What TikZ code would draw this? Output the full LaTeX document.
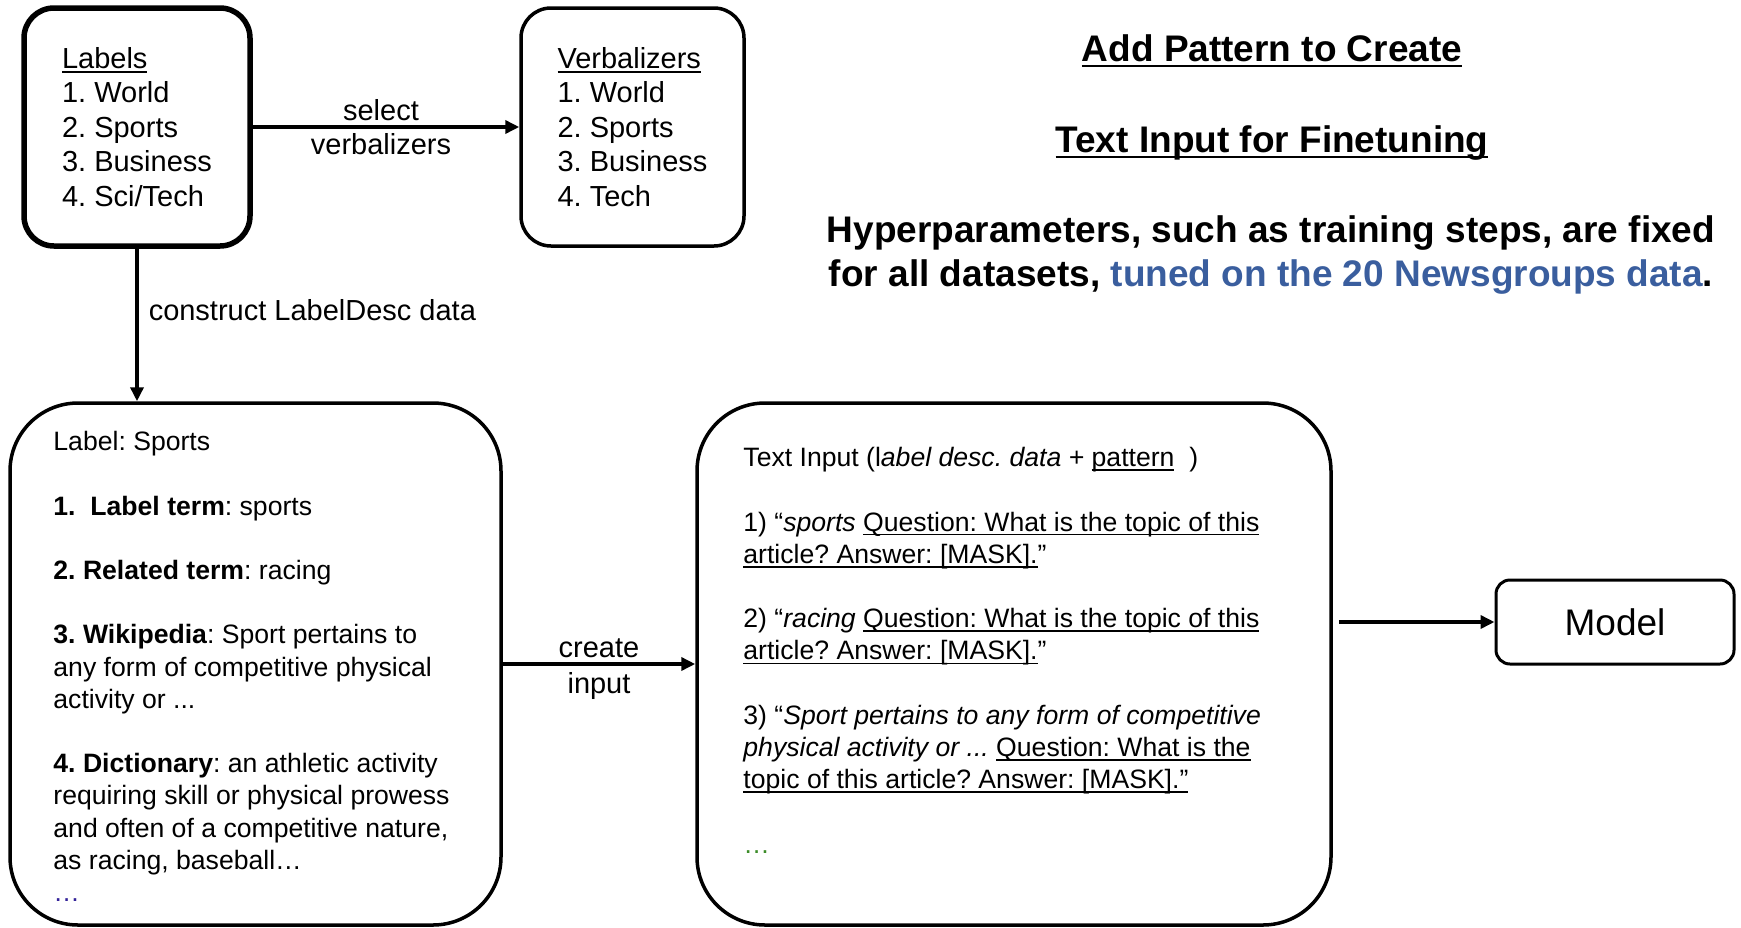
\documentclass[tikz,border=0pt]{standalone}
\usepackage{fontspec}
\setmainfont{Liberation Sans}
\usepackage{xcolor}
\usepackage{tikz}
\usetikzlibrary{positioning}
\usetikzlibrary{calc}
\usetikzlibrary{arrows.meta}
\definecolor{tuneblue}{RGB}{58,94,158}
\definecolor{dotblue}{RGB}{51,34,153}
\definecolor{dotgreen}{RGB}{60,140,40}
\newsavebox{\undlbox}
\newcommand{\undl}[1]{\sbox{\undlbox}{#1}\rlap{\rule[-0.16em]{\wd\undlbox}{0.06em}}\usebox{\undlbox}}
\frenchspacing

\begin{document}
\begin{tikzpicture}[x=1pt, y=-1pt, roundbox/.style ={draw, rounded corners=#1, line width=3.5pt}, roundbox/.default=30pt, arr/.style={-{Triangle[length=14pt,width=13pt]}, line width=3.5pt}, lst/.style={font={\fontsize{29}{34.5}\selectfont}, align=left}, small/.style={font={\fontsize{26.6}{32.2}\selectfont}, align=left, inner sep=0pt}, big/.style={font={\bfseries\fontsize{37}{44}\selectfont}, align=center}]
	\useasboundingbox (0,0) rectangle (1741,927);
	\node[roundbox, line width=5.5pt, minimum width=226pt, minimum height=238pt, lst] (labels) at (137,127) {\undl{Labels}\\1. World\\2. Sports\\3. Business\\4. Sci/Tech};
	\node[roundbox, minimum width=223pt, minimum height=238pt, lst] (verb) at (632.5,127) {\undl{Verbalizers}\\1. World\\2. Sports\\3. Business\\4. Tech};
	\node[roundbox=68pt, minimum width=491pt, minimum height=522pt] (desc) at (255.5,664) {};
	\node[roundbox=68pt, minimum width=634pt, minimum height=522pt] (tin) at (1014,664) {};
	\node[roundbox=14pt, line width=3pt, minimum width=238pt, minimum height=84pt, font={\fontsize{37}{44}\selectfont}] (model) at (1615,622) {Model};
	% box contents
	\node[small, anchor=north west] (desctext) at ($(desc.north west)+(45,30)$) {Label: Sports\\[32.2pt]
	\textbf{1.\ \ Label term}: sports\\[32.2pt]
	\textbf{2. Related term}: racing\\[32.2pt]
	\textbf{3. Wikipedia}: Sport pertains to\\
	any form of competitive physical\\
	activity or ...\\[32.2pt]
	\textbf{4. Dictionary}: an athletic activity\\
	requiring skill or physical prowess\\
	and often of a competitive nature,\\
	as racing, baseball…\\
	\textcolor{dotblue}{…}};
	\node[small, anchor=north west] (tintext) at ($(tin.north west)+(48,46)$) {Text Input (l\textit{abel desc. data +} \undl{pattern}\ \ )\\[32.2pt]
	1) “\textit{sports} \undl{Question: What is the topic of this}\\
	\undl{article? Answer: [MASK].}”\\[32.2pt]
	2) “\textit{racing} \undl{Question: What is the topic of this}\\
	\undl{article? Answer: [MASK].}”\\[32.2pt]
	3) “\textit{Sport pertains to any form of competitive}\\
	\textit{physical activity or ...} \undl{Question: What is the}\\
	\undl{topic of this article? Answer: [MASK].”}\\[32.2pt]
	\textcolor{dotgreen}{…}};
	% headings
	\node[big] (title1) at (1272,51) {\undl{Add Pattern to Create}};
	\node[big] (title2) at (1272,143) {\undl{Text Input for Finetuning}};
	\node[big] (hyper) at (1271,255) {Hyperparameters, such as training steps, are fixed\\for all datasets, \textcolor{tuneblue}{tuned on the 20 Newsgroups data}.};
	% connectors
	\draw[arr] (labels) -- node[lst, align=center, xshift=-5pt] {select\\verbalizers} (verb);
	\draw[arr] (labels) -- node[lst, right, pos=0.4, inner sep=10pt] {construct LabelDesc data} (labels.south |- desc.north);
	\draw[arr] (desc) -- node[lst, align=center, yshift=-5pt, font={\fontsize{29}{36}\selectfont}] {create\\input} (tin);
	\draw[arr] ($(tin.east |- model.west)+(6,0)$) -- (model);
\end{tikzpicture}
\end{document}
